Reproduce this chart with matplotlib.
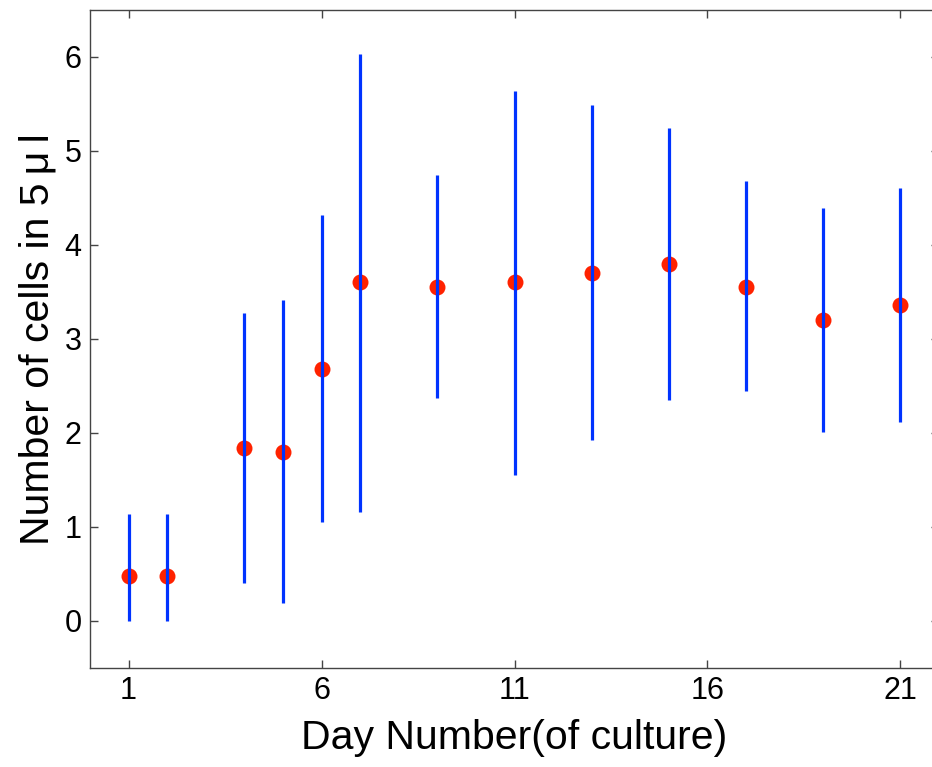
import numpy as np
import matplotlib
matplotlib.use("Agg")
import matplotlib.pyplot as plt

# jours de culture et moyennes
days = [1, 2, 4, 5, 6, 7, 9, 11, 13, 15, 17, 19, 21]
mean_cells = [0.48, 0.48, 1.84, 1.80, 2.68, 3.61, 3.55, 3.61, 3.70, 3.80, 3.55, 3.20, 3.36]
err_low = [0.00, 0.00, 0.40, 0.19, 1.05, 1.16, 2.37, 1.55, 1.93, 2.35, 2.45, 2.01, 2.12]
err_high = [1.14, 1.14, 3.28, 3.41, 4.32, 6.03, 4.74, 5.64, 5.49, 5.24, 4.68, 4.39, 4.61]
x_ticks = [1, 6, 11, 16, 21]
y_ticks = [0, 1, 2, 3, 4, 5, 6]

plt.rcParams['font.family'] = ['Liberation Sans', 'DejaVu Sans']

fig = plt.figure(figsize=(9.32, 7.67), dpi=100)
# l'axe déborde un peu à droite comme sur l'original (bord coupé)
ax = fig.add_axes([90 / 932, 1 - 668 / 767, 849 / 932, 658 / 767])

d = np.array(days)
m = np.array(mean_cells)
lo = m - np.array(err_low)
hi = np.array(err_high) - m

ax.plot(d, m, 'o', color='#ff2200', markersize=11.5, markeredgewidth=0, zorder=2)
ax.errorbar(d, m, yerr=[lo, hi], fmt='none', ecolor='#0033ff', elinewidth=2.3,
            capsize=0, zorder=3)

ax.set_xlim(0, 22)
ax.set_ylim(-0.5, 6.5)
ax.set_xticks(x_ticks)
ax.set_yticks(y_ticks)
ax.tick_params(direction='in', length=6, width=1, colors='#444444',
               labelcolor='black', labelsize=22, top=True, right=True, pad=6)
for s in ax.spines.values():
    s.set_color('#444444')
    s.set_linewidth(1)

ax.set_xlabel('Day Number(of culture)', fontsize=29.5, labelpad=9)
ax.set_ylabel('Number of cells in 5\u2009\u03bc\u2009l', fontsize=29.5, labelpad=6)

fig.savefig('out.png', dpi=100)
